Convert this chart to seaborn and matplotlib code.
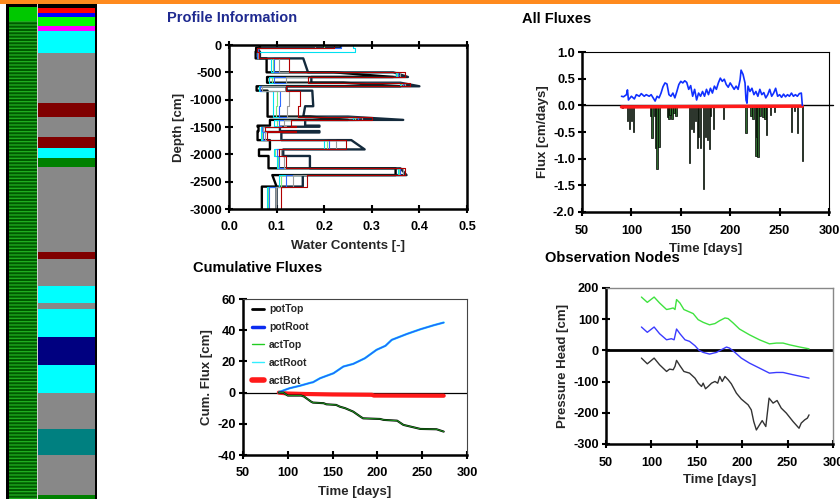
import numpy as np
import pandas as pd
import matplotlib
matplotlib.use('Agg')
import matplotlib.pyplot as plt
import seaborn as sns
from matplotlib.patches import Rectangle
from matplotlib.lines import Line2D
from matplotlib.ticker import FormatStrFormatter

# ---------------- data ----------------
# material strip (node units from top)
mat_bounds = [8, 13, 17, 26, 31, 53, 103, 117, 137, 148, 158, 167, 252, 259, 286, 303, 309, 337, 365, 393, 429, 455, 495, 499]
mat_colors = ['#ff0000', '#0000ff', '#00ff00', '#ff00ff', '#00ffff', '#888888', '#800000', '#888888', '#800000',
              '#00ffff', '#008000', '#888888', '#800000', '#888888', '#00ffff', '#888888', '#00ffff', '#000080',
              '#00ffff', '#888888', '#008080', '#888888', '#008000']

# profile information: soil layers (depth, cm) and water contents per time
layer_top = [0, -50, -120, -245, -500, -585, -690, -755, -835, -1120, -1310, -1370, -1475, -1495, -1575, -1600, -1740, -1910, -2030, -2255, -2380, -2590]
layer_bot = [-50, -120, -245, -500, -585, -690, -755, -835, -1120, -1310, -1370, -1475, -1495, -1575, -1600, -1740, -1910, -2030, -2255, -2380, -2590, -3000]
dry_top = [0.065, 0.057, 0.056, 0.079, 0.22, 0.080, 0.24, 0.058, 0.081, 0.081, 0.17, 0.086, 0.06, 0.062, 0.06, 0.060, 0.086, 0.063, 0.083, 0.35, 0.091, 0.069]
dry_bot = [0.065, 0.057, 0.056, 0.079, 0.345, 0.080, 0.36, 0.058, 0.081, 0.081, 0.25, 0.086, 0.06, 0.062, 0.06, 0.060, 0.086, 0.063, 0.083, 0.35, 0.10, 0.069]
wet_top = [0.235, 0.062, 0.065, 0.156, 0.345, 0.173, 0.36, 0.121, 0.175, 0.160, 0.25, 0.160, 0.19, 0.107, 0.19, 0.11, 0.257, 0.114, 0.17, 0.36, 0.155, 0.10]
wet_bot = [0.235, 0.062, 0.065, 0.166, 0.376, 0.173, 0.40, 0.121, 0.177, 0.156, 0.366, 0.160, 0.19, 0.107, 0.19, 0.11, 0.285, 0.114, 0.17, 0.373, 0.155, 0.10]
theta_red = [0.22, 0.058, 0.063, 0.127, 0.37, 0.165, 0.38, 0.12, 0.150, 0.145, 0.30, 0.13, 0.14, 0.075, 0.14, 0.08, 0.245, 0.105, 0.12, 0.37, 0.163, 0.11]
theta_gray = [0.18, 0.058, 0.06, 0.105, 0.36, 0.12, 0.37, 0.07, 0.127, 0.122, 0.28, 0.115, 0.12, 0.072, 0.12, 0.075, 0.225, 0.11, 0.115, 0.365, 0.135, 0.098]
theta_blue = [0.235, 0.06, 0.059, 0.095, 0.355, 0.095, 0.365, 0.065, 0.107, 0.105, 0.27, 0.105, 0.11, 0.07, 0.11, 0.072, 0.21, 0.10, 0.105, 0.36, 0.12, 0.085]
theta_cyan = [0.26, 0.265, 0.058, 0.088, 0.35, 0.085, 0.36, 0.062, 0.093, 0.092, 0.26, 0.095, 0.10, 0.067, 0.10, 0.068, 0.20, 0.095, 0.10, 0.355, 0.105, 0.08]
theta_green = [0.20, 0.058, 0.058, 0.092, 0.352, 0.09, 0.362, 0.063, 0.100, 0.098, 0.265, 0.10, 0.105, 0.068, 0.105, 0.07, 0.205, 0.097, 0.102, 0.357, 0.11, 0.082]

# all fluxes
root_days = [90, 92, 95, 96, 97, 100, 103, 105, 108, 110, 113, 115, 118, 120, 122, 124, 126, 128, 130, 132, 134, 136, 138, 140, 142,
             144, 146, 148, 150, 152, 154, 156, 158, 160, 162, 164, 166, 168, 170, 172, 174, 176, 178, 180, 182, 184, 186, 188, 190,
             192, 194, 196, 198, 200, 202, 204, 206, 208, 210, 211, 213, 215, 216, 217, 218, 220, 222, 224, 226, 228, 230, 232, 234,
             236, 238, 240, 242, 244, 246, 248, 250, 252, 254, 256, 258, 260, 262, 264, 266, 268, 270, 272, 273]
root_flux = [0.17, 0.16, 0.20, 0.29, 0.10, 0.17, 0.12, 0.20, 0.17, 0.22, 0.17, 0.20, 0.17, 0.20, 0.14, 0.08, 0.17, 0.14, 0.23, 0.35,
             0.42, 0.40, 0.20, 0.17, 0.23, 0.14, 0.26, 0.39, 0.45, 0.42, 0.46, 0.43, 0.30, 0.37, 0.17, 0.30, 0.10, 0.23, 0.17, 0.26,
             0.17, 0.30, 0.20, 0.32, 0.23, 0.36, 0.30, 0.42, 0.51, 0.45, 0.49, 0.39, 0.34, 0.42, 0.36, 0.30, 0.36, 0.30, 0.48, 0.66,
             0.58, 0.42, 0.10, 0.04, 0.36, 0.26, 0.32, 0.20, 0.26, 0.17, 0.30, 0.20, 0.24, 0.14, 0.20, 0.30, 0.17, 0.23, 0.32, 0.17,
             0.20, 0.15, 0.21, 0.16, 0.20, 0.17, 0.23, 0.17, 0.20, 0.17, 0.22, 0.23, 0.0]
top_days = [91, 93, 96, 98, 100, 102, 104, 112, 120, 121, 124, 125, 126, 128, 137, 138, 139, 141, 143, 145, 159, 161, 163, 165, 167,
            168, 170, 173, 175, 177, 179, 180, 183, 193, 208, 216, 221, 223, 226, 227, 228, 230, 233, 235, 237, 241, 245, 262, 265,
            268, 273]
top_flux = [-0.05, -0.04, -0.30, -0.45, -0.30, -0.50, -0.03, -0.02, -0.20, -0.62, -0.20, -0.80, -1.20, -0.78, -0.22, -0.25, -0.18,
            -0.25, -0.15, -0.20, -1.08, -0.45, -0.50, -0.30, -0.80, -0.60, -0.80, -1.57, -0.60, -0.65, -0.82, -0.20, -0.45, -0.25,
            -0.03, -0.52, -0.20, -0.25, -0.95, -0.60, -0.97, -0.20, -0.22, -0.25, -0.55, -0.18, -0.12, -0.50, -0.10, -0.52, -1.05]
bot_days = [90, 150, 200, 273]
bot_flux = [-0.03, -0.025, -0.02, -0.015]

# cumulative fluxes
potroot_days = [90, 91, 102, 113, 126, 128, 136, 143, 151, 162, 173, 186, 199, 209, 216, 233, 248, 263, 274]
potroot_cum = [0, 0.5, 2.8, 4.3, 6.4, 6.6, 9.2, 10.7, 12.4, 16.7, 18.4, 22, 27.4, 30, 33.8, 37.6, 40.6, 43.2, 44.9]
pottop_days = [90, 95, 100, 115, 118, 126, 128, 140, 143, 154, 158, 164, 173, 181, 184, 203, 207, 222, 229, 240, 248, 266, 274]
pottop_cum = [0, 0, -1.9, -1.9, -2.5, -5.8, -6.4, -6.8, -7.5, -7.9, -9, -10, -12.2, -15.4, -16.5, -16.9, -17.5, -18, -20.7,
              -22.2, -23.3, -23.5, -25]
actbot_days = [90, 100, 120, 150, 194, 196, 274]
actbot_cum = [0, -0.6, -0.9, -1.2, -1.4, -1.9, -2.0]
cum_labels = ['potTop', 'potRoot', 'actTop', 'actRoot', 'actBot']

# observation nodes
obs1_days = [89, 95.5, 103, 109, 116.7, 120, 124, 126, 127.7, 131.4, 135.8, 140.5, 146, 151.5, 157, 164, 170, 175, 181, 184.5,
             190, 197, 208, 219, 230, 237.7, 245, 252, 263, 273.6]
obs1_head = [171, 154, 171, 152, 131, 133, 136, 131, 163, 152, 131, 125, 118, 98.5, 90, 82, 86, 95, 104, 102, 88, 68.5, 50, 34,
             21, 23.5, 23.5, 18, 11, 5]
obs2_days = [89, 95.5, 103, 109, 116.7, 122, 125, 127.7, 131.4, 137, 142, 148, 152.6, 157, 164, 171.7, 177, 182.7, 186, 192,
             199, 208, 219, 230, 237.7, 245, 256, 273.6]
obs2_head = [75, 58, 75, 53.5, 34, 37.5, 34, 68.5, 53.5, 34, 29, 15, 0, -6.4, -11.8, -6.4, 2, 10.7, 7.5, -6.4, -24.6, -40.7,
             -56.7, -72.8, -70.7, -70.7, -78, -88.9]
obs3_days = [89, 95.5, 103, 109, 116.7, 120, 124, 126, 127.7, 131.4, 135.8, 142, 148, 151.5, 155.2, 157, 159.6, 162.5, 166.2,
             170, 173, 175.3, 178, 181, 184.5, 188, 193.6, 199, 206.5, 210, 212.7, 215.6, 219, 222, 226, 229.6, 234, 238.4,
             243, 248.6, 256, 262.6, 265, 268.8, 271.8, 273.6]
obs3_head = [-24.6, -43, -24.6, -46, -67.5, -60, -62, -51, -32, -49, -67.5, -72.8, -89, -105, -115.6, -105, -123, -115.6, -105,
             -99.6, -105, -83.5, -99.6, -83.5, -94, -107, -137, -156, -174.5, -190.6, -228, -255, -239, -225, -244, -153, -169,
             -160.6, -185, -201, -228, -249.5, -233, -222.7, -217, -206.6]

# ---------------- style ----------------
sns.set_style('white')
plt.rcParams['font.family'] = ['Liberation Sans', 'DejaVu Sans']
plt.rcParams['font.weight'] = 'bold'
plt.rcParams['axes.labelweight'] = 'bold'
plt.rcParams['axes.unicode_minus'] = False
plt.rcParams['hatch.linewidth'] = 0.9

W, H = 840, 499
fig = plt.figure(figsize=(8.4, 4.99), dpi=100)
fig.patch.set_facecolor('white')

TICK_FS = 9.2
LABEL_FS = 9.5


def rect(x0, y0, x1, y1):
    return [x0 / W, 1 - y1 / H, (x1 - x0) / W, (y1 - y0) / H]


def ftext(x, y, s, **kw):
    fig.text(x / W, 1 - y / H, s, va='center', ha='left', fontweight='bold', **kw)


def style_axes(ax, thin_color='black', thin_lw=0.8, all_thick=False):
    for side in ['left', 'bottom']:
        ax.spines[side].set_linewidth(1.8)
        ax.spines[side].set_color('black')
    for side in ['top', 'right']:
        ax.spines[side].set_visible(True)
        if all_thick:
            ax.spines[side].set_linewidth(1.8)
            ax.spines[side].set_color('black')
        else:
            ax.spines[side].set_linewidth(thin_lw)
            ax.spines[side].set_color(thin_color)
    ax.tick_params(direction='inout', length=6, width=1.5, labelsize=TICK_FS, colors='black',
                   left=True, bottom=True)
    ax.tick_params(axis='x', pad=6)
    ax.tick_params(axis='y', pad=2)
    ax.set_facecolor('white')


# orange header line
fig.patches.append(Rectangle((0, 1 - 3.5 / H), 1, 3.5 / H, transform=fig.transFigure,
                             facecolor='#ff8a1e', edgecolor='none', zorder=10))

# ---------------- left strip ----------------
ax0 = fig.add_axes(rect(6, 4, 97, 499))
ax0.set_xlim(6, 97)
ax0.set_ylim(499, 4)
ax0.set_facecolor('black')
for s in ax0.spines.values():
    s.set_visible(False)
ax0.set_xticks([])
ax0.set_yticks([])
ax0.bar(23, 14, bottom=6.5, width=28, color='#00c800', linewidth=0)
ax0.bar(23, 479, bottom=20.5, width=28, color='#005a00', hatch='-----', edgecolor='#22b022', linewidth=0)
ax0.bar(37.6, 495, bottom=4, width=1.2, color='#cfcfcf', linewidth=0)
for t, b, c in zip(mat_bounds[:-1], mat_bounds[1:], mat_colors):
    ax0.bar(66.5, b - t, bottom=t, width=57, color=c, linewidth=0)

# ---------------- profile information ----------------
ax1 = fig.add_axes(rect(229, 45, 467, 209))
style_axes(ax1, all_thick=True)
ax1.tick_params(top=True)


def profile_xy(th_t, th_b):
    xs, ys = [], []
    for t, b, a, c in zip(layer_top, layer_bot, th_t, th_b):
        xs += [a, c]
        ys += [t, b]
    return xs, ys


for th_t, th_b, col, lw in [(wet_top, wet_bot, '#142a3c', 1.7), (dry_top, dry_bot, '#000000', 1.7)]:
    xs, ys = profile_xy(th_t, th_b)
    sns.lineplot(x=xs, y=ys, sort=False, estimator=None, color=col, lw=lw, ax=ax1, legend=False)
for th, col in [(theta_green, '#7aee7a'), (theta_cyan, '#00e0f0'), (theta_blue, '#2f6bff'),
                (theta_gray, '#9a9a9a'), (theta_red, '#b00000')]:
    xs, ys = profile_xy(th, th)
    sns.lineplot(x=xs, y=ys, sort=False, estimator=None, color=col, lw=0.8, ax=ax1, legend=False)
ax1.set_xlim(0, 0.5)
ax1.set_ylim(-3000, 0)
ax1.set_xticks([0, 0.1, 0.2, 0.3, 0.4, 0.5])
ax1.set_yticks([0, -500, -1000, -1500, -2000, -2500, -3000])
ax1.xaxis.set_major_formatter(FormatStrFormatter('%.1f'))
ax1.set_xlabel('Water Contents [-]', fontsize=LABEL_FS, labelpad=5)
ax1.set_ylabel('Depth [cm]', fontsize=LABEL_FS, labelpad=3)

# ---------------- all fluxes ----------------
ax2 = fig.add_axes(rect(582, 52, 829, 212))
style_axes(ax2)
ax2.axhline(0, color='black', lw=1, xmax=1.015, clip_on=False, zorder=1)
ax2.bar(top_days, top_flux, width=1.5, color='#2d682d', edgecolor='black', linewidth=0.5, zorder=2)
sns.lineplot(x=bot_days, y=bot_flux, sort=False, estimator=None, color='#ff1a1a', lw=2.5, ax=ax2, legend=False, zorder=3)
sns.lineplot(x=root_days, y=root_flux, sort=False, estimator=None, color='#1030ff', lw=1.2, ax=ax2, legend=False, zorder=4)
ax2.set_xlim(50, 300)
ax2.set_ylim(-2.0, 1.0)
ax2.set_xticks([50, 100, 150, 200, 250, 300])
ax2.set_yticks([1.0, 0.5, 0.0, -0.5, -1.0, -1.5, -2.0])
ax2.yaxis.set_major_formatter(FormatStrFormatter('%.1f'))
ax2.set_xlabel('Time [days]', fontsize=LABEL_FS, labelpad=5)
ax2.set_ylabel('Flux [cm/days]', fontsize=LABEL_FS, labelpad=3)

# ---------------- cumulative fluxes ----------------
ax3 = fig.add_axes(rect(243, 299, 467, 455))
style_axes(ax3, thin_color='#444444')
ax3.axhline(0, color='black', lw=0.9, zorder=1)
sns.lineplot(x=actbot_days, y=actbot_cum, sort=False, estimator=None, color='#ff1a1a', lw=3, ax=ax3, legend=False)
sns.lineplot(x=potroot_days, y=potroot_cum, sort=False, estimator=None, color='#00e5ff', lw=1.6, ax=ax3, legend=False)
sns.lineplot(x=potroot_days, y=potroot_cum, sort=False, estimator=None, color='#2f5cff', lw=1.0, ax=ax3, legend=False)
sns.lineplot(x=pottop_days, y=pottop_cum, sort=False, estimator=None, color='#000000', lw=1.5, ax=ax3, legend=False)
sns.lineplot(x=pottop_days, y=pottop_cum, sort=False, estimator=None, color='#1f9a1f', lw=0.7, ax=ax3, legend=False)
ax3.set_xlim(50, 300)
ax3.set_ylim(-40, 60)
ax3.set_xticks([50, 100, 150, 200, 250, 300])
ax3.set_yticks([-40, -20, 0, 20, 40, 60])
ax3.set_xlabel('Time [days]', fontsize=LABEL_FS, labelpad=5)
ax3.set_ylabel('Cum. Flux [cm]', fontsize=LABEL_FS, labelpad=3)
handles = [Line2D([], [], color='black', lw=2),
           Line2D([], [], color='#0b2cf0', lw=2.5),
           Line2D([], [], color='#22cc22', lw=1),
           Line2D([], [], color='#33eeff', lw=1),
           Line2D([], [], color='#ff1a1a', lw=4)]
ax3.legend(handles, cum_labels, loc='upper left', bbox_to_anchor=(0.04, 0.965), frameon=False,
           fontsize=7.5, handlelength=1.2, handletextpad=0.45, labelspacing=0.75, borderpad=0, borderaxespad=0)

# ---------------- observation nodes ----------------
ax4 = fig.add_axes(rect(606, 288, 833, 444))
style_axes(ax4, thin_color='#888888', thin_lw=1.0)
ax4.axhline(0, color='black', lw=2, zorder=1)
sns.lineplot(x=obs1_days, y=obs1_head, sort=False, estimator=None, color='#3fe23f', lw=1.0, ax=ax4, legend=False)
sns.lineplot(x=obs2_days, y=obs2_head, sort=False, estimator=None, color='#3b3bff', lw=1.0, ax=ax4, legend=False)
sns.lineplot(x=obs3_days, y=obs3_head, sort=False, estimator=None, color='#333333', lw=1.0, ax=ax4, legend=False)
ax4.set_xlim(50, 300)
ax4.set_ylim(-300, 200)
ax4.set_xticks([50, 100, 150, 200, 250, 300])
ax4.set_yticks([200, 100, 0, -100, -200, -300])
ax4.set_xlabel('Time [days]', fontsize=LABEL_FS, labelpad=4)
ax4.set_ylabel('Pressure Head [cm]', fontsize=LABEL_FS, labelpad=3)

# ---------------- titles ----------------
ftext(167, 18, 'Profile Information', fontsize=10.5, color='#1f2a90')
ftext(522, 19, 'All Fluxes', fontsize=10.5, color='black')
ftext(193, 268, 'Cumulative Fluxes', fontsize=10.5, color='black')
ftext(545, 258, 'Observation Nodes', fontsize=10.5, color='black')

fig.savefig('out.png', dpi=100)
